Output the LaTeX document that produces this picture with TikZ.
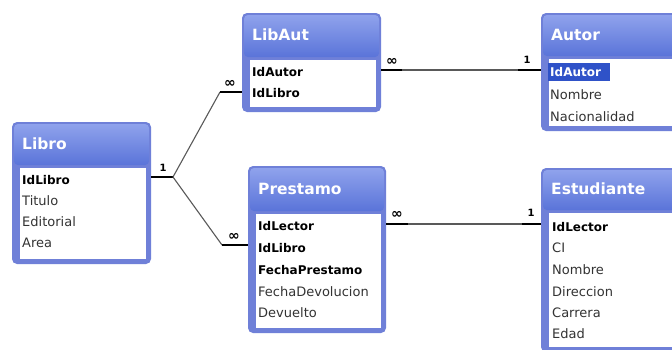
\documentclass[tikz,border=0pt]{standalone}
\usepackage{fontspec}
\setmainfont{DejaVu Sans}
\usetikzlibrary{calc}
\definecolor{frameblue}{HTML}{6F80D8}
\definecolor{hdtop}{HTML}{8FA2EC}
\definecolor{hdbot}{HTML}{5A74D9}
\definecolor{selblue}{HTML}{2F52C8}
\tikzset{
  tbl/.style={fill=frameblue, rounded corners=5pt, inner sep=0pt, outer sep=0pt, anchor=north west},
  ttl/.style={text=white, font=\fontsize{15.5}{15.5}\selectfont\bfseries, anchor=west, inner sep=0pt},
  fld/.style={font=\fontsize{13}{13}\selectfont, anchor=west, inner sep=0pt, text=black!80},
  keyfld/.style={font=\fontsize{12}{12}\selectfont\bfseries, anchor=west, inner sep=0pt, text=black},
  rel/.style={draw=black!65, line width=1.1pt},
  stub/.style={draw=black, line width=2.6pt},
  card/.style={font=\fontsize{10}{10}\selectfont\bfseries, inner sep=0pt},
  inf/.style={font=\fontsize{14}{14}\selectfont\bfseries, inner sep=0pt},
}
\newcommand\erframe[7]{%
  \node[tbl, minimum width={#4-#2}, minimum height={#5-#3}] (#1) at (#2,#3) {};
  \shade[top color=hdtop, bottom color=hdbot, rounded corners=4pt]
    ($(#1.north west)+(2,2)$) rectangle ($(#1.north east)+(-2,{#6-#3})$);
  \fill[white] ($(#1.north west)+(8,{#6-#3+3})$) rectangle ($(#1.south east)+(-5,-5)$);
  \node[ttl] (#1-title) at ($(#1.north west)+(10,{(#6-#3)/2})$) {#7};
}
\begin{document}
\begin{tikzpicture}[x=1pt,y=-1pt]
\useasboundingbox (0,0) rectangle (672,349);
\clip (0,0) rectangle (672,349);
\fill[white] (0,0) rectangle (672,349);

% Libro
\erframe{libro}{12}{122}{151}{264}{165}{Libro}
\node[keyfld] (libro-f1) at (22,180) {IdLibro};
\node[fld] (libro-f2) at (22,201) {Titulo};
\node[fld] (libro-f3) at (22,222) {Editorial};
\node[fld] (libro-f4) at (22,243) {Area};

% LibAut
\erframe{libaut}{242}{13}{381}{112}{57}{LibAut}
\node[keyfld] (libaut-f1) at (252,72) {IdAutor};
\node[keyfld] (libaut-f2) at (252,93) {IdLibro};

% Autor
\erframe{autor}{541}{13}{690}{131}{56}{Autor}
\fill[selblue] (548,63) rectangle (610,81);
\node[keyfld, text=white] (autor-f1) at (550,72) {IdAutor};
\node[fld] (autor-f2) at (550,95) {Nombre};
\node[fld] (autor-f3) at (550,117) {Nacionalidad};

% Prestamo
\erframe{prestamo}{248}{166}{386}{333}{211}{Prestamo}
\node[keyfld] (prestamo-f1) at (258,226) {IdLector};
\node[keyfld] (prestamo-f2) at (258,248) {IdLibro};
\node[keyfld] (prestamo-f3) at (258,270) {FechaPrestamo};
\node[fld] (prestamo-f4) at (258,292) {FechaDevolucion};
\node[fld] (prestamo-f5) at (258,313) {Devuelto};

% Estudiante
\erframe{estud}{541}{168}{690}{352}{210}{Estudiante}
\node[keyfld] (estud-f1) at (552,227) {IdLector};
\node[fld] (estud-f2) at (552,248) {CI};
\node[fld] (estud-f3) at (552,270) {Nombre};
\node[fld] (estud-f4) at (552,292) {Direccion};
\node[fld] (estud-f5) at (552,313) {Carrera};
\node[fld] (estud-f6) at (552,334) {Edad};

% connector coordinates
\coordinate (fork) at (173,177);
\coordinate (la-in) at (220,92);
\coordinate (pr-in) at (222,245);
\coordinate (la-out) at (402,70);
\coordinate (au-in) at (518,70);
\coordinate (pr-out) at (408,224);
\coordinate (es-in) at (522,224);

% Libro -> LibAut / Prestamo
\draw[stub] (libro.east |- fork) -- (fork);
\draw[rel] (fork) -- (la-in);
\draw[rel] (fork) -- (pr-in);
\draw[stub] (la-in) -- (libaut.west |- la-in);
\draw[stub] (pr-in) -- (prestamo.west |- pr-in);
\node[card] (c1) at (163,168) {1};
\node[inf] (c2) at (230,84) {∞};
\node[inf] (c3) at (234,237) {∞};

% LibAut -> Autor
\draw[stub] (libaut.east |- la-out) -- (la-out);
\draw[rel] (la-out) -- (au-in);
\draw[stub] (au-in) -- (autor.west |- au-in);
\node[inf] (c4) at (392,62) {∞};
\node[card] (c5) at (527,60) {1};

% Prestamo -> Estudiante
\draw[stub] (prestamo.east |- pr-out) -- (pr-out);
\draw[rel] (pr-out) -- (es-in);
\draw[stub] (es-in) -- (estud.west |- es-in);
\node[inf] (c6) at (397,215) {∞};
\node[card] (c7) at (531,213) {1};
\end{tikzpicture}
\end{document}
